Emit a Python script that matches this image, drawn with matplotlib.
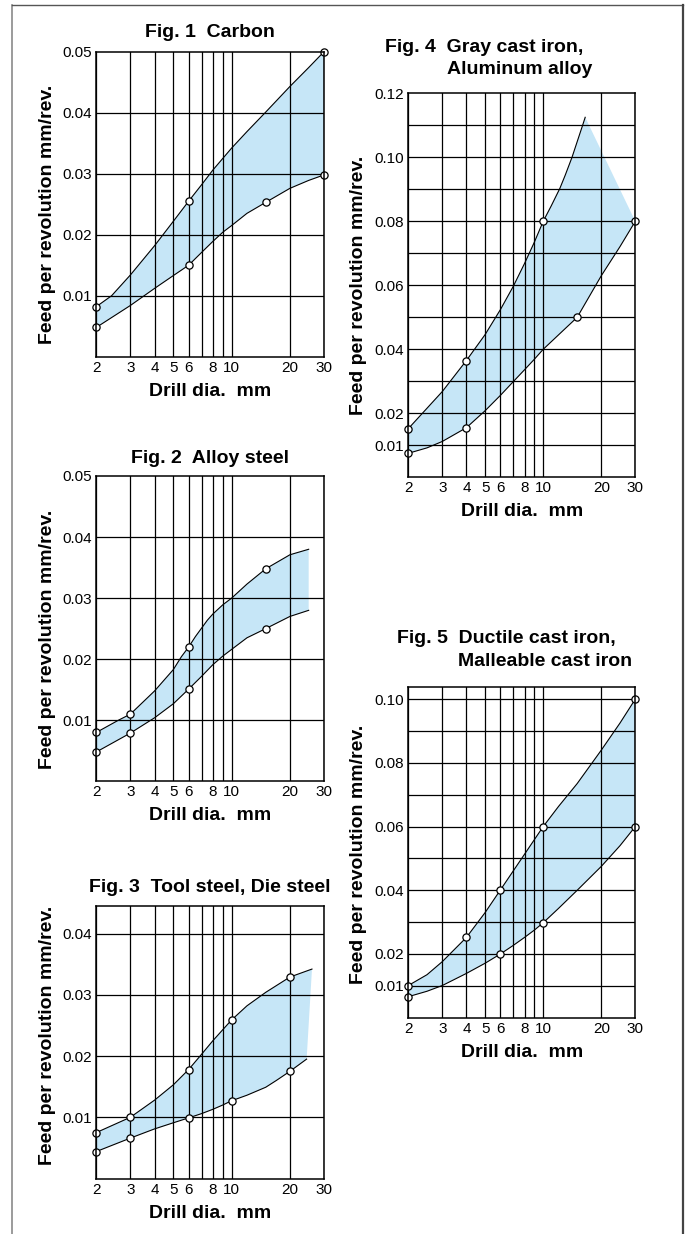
import numpy as np
import matplotlib
matplotlib.use("Agg")
import matplotlib.pyplot as plt
from matplotlib.lines import Line2D
from matplotlib.ticker import FixedLocator, FixedFormatter, NullFormatter

plt.rcParams['font.family'] = ['Liberation Sans', 'DejaVu Sans']

W, H = 685, 1234

# ---- data (drill dia. mm -> feed mm/rev) ----
# Fig. 1 Carbon
fig1_upper_x = [2, 2.4, 3, 4, 5, 6, 7, 8, 9, 10, 12, 15, 20, 25, 30]
fig1_upper_y = [0.0082, 0.0100, 0.0134, 0.0182, 0.0222, 0.0255, 0.0282, 0.0306, 0.0325, 0.0342,
                0.0369, 0.0401, 0.0443, 0.0474, 0.0500]
fig1_lower_x = [2, 3, 4, 5, 6, 7, 8, 9, 10, 12, 15, 20, 25, 30]
fig1_lower_y = [0.0048, 0.0084, 0.0112, 0.0133, 0.0150, 0.0171, 0.0189, 0.0204, 0.0215, 0.0235,
                0.0253, 0.0276, 0.0289, 0.0298]
fig1_marks_x = [2, 6, 30, 2, 6, 15, 30]
fig1_marks_y = [0.0082, 0.0255, 0.0500, 0.0048, 0.0150, 0.0253, 0.0298]

# Fig. 2 Alloy steel
fig2_upper_x = [2, 2.6, 3, 4, 5, 5.5, 6, 6.5, 7, 7.5, 8, 9, 10, 12, 15, 20, 25]
fig2_upper_y = [0.0080, 0.0100, 0.0110, 0.0148, 0.0183, 0.0204, 0.0220, 0.0237, 0.0251, 0.0264,
                0.0274, 0.0289, 0.0300, 0.0323, 0.0348, 0.0371, 0.0380]
fig2_lower_x = [2, 3, 4, 5, 6, 7, 8, 9, 10, 12, 15, 20, 25]
fig2_lower_y = [0.0048, 0.0079, 0.0104, 0.0127, 0.0151, 0.0172, 0.0191, 0.0205, 0.0216, 0.0235,
                0.0250, 0.0270, 0.0280]
fig2_marks_x = [2, 3, 6, 15, 2, 3, 6, 15]
fig2_marks_y = [0.0080, 0.0110, 0.0220, 0.0348, 0.0048, 0.0079, 0.0151, 0.0250]

# Fig. 3 Tool steel, Die steel
fig3_upper_x = [2, 3, 4, 5, 6, 7, 8, 9, 10, 12, 15, 20, 26]
fig3_upper_y = [0.0075, 0.0100, 0.0128, 0.0153, 0.0178, 0.0203, 0.0225, 0.0243, 0.0259, 0.0282,
                0.0304, 0.0329, 0.0342]
fig3_lower_x = [2, 3, 4, 5, 6, 7, 8, 9, 10, 12, 15, 17, 20, 24.4]
fig3_lower_y = [0.0044, 0.0066, 0.0081, 0.0091, 0.0099, 0.0106, 0.0113, 0.0120, 0.0127, 0.0136,
                0.0149, 0.0160, 0.0175, 0.0195]
fig3_marks_x = [2, 3, 6, 10, 20, 2, 3, 6, 10, 20]
fig3_marks_y = [0.0075, 0.0100, 0.0178, 0.0259, 0.0329, 0.0044, 0.0066, 0.0099, 0.0127, 0.0175]

# Fig. 4 Gray cast iron, Aluminum alloy
fig4_upper_x = [2, 3, 4, 5, 6, 7, 8, 9, 10, 11, 12.2, 13, 14.1, 15, 16, 16.5]
fig4_upper_y = [0.0152, 0.0268, 0.0365, 0.0446, 0.0524, 0.0597, 0.0668, 0.0735, 0.0800, 0.0848,
                0.0903, 0.0944, 0.1000, 0.1049, 0.1100, 0.1125]
fig4_lower_x = [2, 2.5, 3, 4, 5, 6, 7, 8, 9, 10, 12, 15, 20, 25, 30]
fig4_lower_y = [0.0075, 0.0092, 0.0112, 0.0155, 0.0208, 0.0256, 0.0299, 0.0336, 0.0369, 0.0400,
                0.0445, 0.0500, 0.0630, 0.0721, 0.0800]
fig4_marks_x = [2, 4, 10, 2, 4, 15, 30]
fig4_marks_y = [0.0152, 0.0365, 0.0800, 0.0075, 0.0155, 0.0500, 0.0800]

# Fig. 5 Ductile cast iron, Malleable cast iron
fig5_upper_x = [2, 2.5, 3, 4, 5, 6, 7, 8, 9, 10, 12, 15, 20, 25, 30]
fig5_upper_y = [0.0101, 0.0135, 0.0176, 0.0252, 0.0330, 0.0401, 0.0461, 0.0513, 0.0559, 0.0600,
                0.0663, 0.0735, 0.0840, 0.0925, 0.1000]
fig5_lower_x = [2, 2.5, 3, 4, 5, 6, 7, 8, 9, 10, 12, 15, 20, 25, 30]
fig5_lower_y = [0.0066, 0.0083, 0.0101, 0.0139, 0.0171, 0.0200, 0.0227, 0.0252, 0.0275, 0.0298,
                0.0343, 0.0400, 0.0475, 0.0540, 0.0600]
fig5_marks_x = [2, 4, 6, 10, 30, 2, 6, 10, 30]
fig5_marks_y = [0.0101, 0.0252, 0.0401, 0.0600, 0.1000, 0.0066, 0.0200, 0.0298, 0.0600]

x_tick_vals = [2, 3, 4, 5, 6, 8, 10, 20, 30]
x_tick_labels = ['2', '3', '4', '5', '6', '8', '10', '20', '30']
x_grid_vals = [2, 3, 4, 5, 6, 7, 8, 9, 10, 20, 30]

FILL = '#c6e6f7'
xlabel_text = 'Drill dia.  mm'
ylabel_text = 'Feed per revolution mm/rev.'


def px_axes(fig, l, t, r, b):
    return fig.add_axes([l / W, 1 - b / H, (r - l) / W, (b - t) / H])


def draw_panel(ax, ux, uy, lx, ly, mx, my, ymax, yticks, ygrid):
    ax.set_xscale('log')
    ax.set_xlim(2, 30)
    ax.set_ylim(0, ymax)

    poly_x = list(ux) + list(lx)[::-1]
    poly_y = list(uy) + list(ly)[::-1]
    ax.fill(poly_x, poly_y, color=FILL, lw=0, zorder=1)

    for gx in x_grid_vals:
        ax.axvline(gx, color='black', lw=0.9, zorder=2)
    for gy in ygrid:
        ax.axhline(gy, color='black', lw=0.9, zorder=2)

    ax.plot(ux, uy, color='black', lw=0.8, zorder=3, solid_joinstyle='round')
    ax.plot(lx, ly, color='black', lw=0.8, zorder=3, solid_joinstyle='round')
    ax.plot(mx, my, 'o', ms=5.2, mfc='white', mec='black', mew=0.9,
            zorder=4, clip_on=False)

    ax.xaxis.set_major_locator(FixedLocator(x_tick_vals))
    ax.xaxis.set_major_formatter(FixedFormatter(x_tick_labels))
    ax.xaxis.set_minor_locator(FixedLocator([]))
    ax.xaxis.set_minor_formatter(NullFormatter())
    ax.set_yticks(yticks)
    ax.set_yticklabels([f'{v:.2f}' for v in yticks])
    ax.tick_params(axis='both', length=0, labelsize=11, pad=3)
    for s in ax.spines.values():
        s.set_linewidth(1.1)
        s.set_zorder(5)


fig = plt.figure(figsize=(W / 100, H / 100), dpi=100)

panels = [
    # (l, t, r, b), data..., ymax, yticks, ygrid
    ((96.3, 51.7, 324, 356.7), fig1_upper_x, fig1_upper_y, fig1_lower_x, fig1_lower_y,
     fig1_marks_x, fig1_marks_y, 0.05, [0.01, 0.02, 0.03, 0.04, 0.05], [0.01, 0.02, 0.03, 0.04]),
    ((96.3, 476, 324, 781.3), fig2_upper_x, fig2_upper_y, fig2_lower_x, fig2_lower_y,
     fig2_marks_x, fig2_marks_y, 0.05, [0.01, 0.02, 0.03, 0.04, 0.05], [0.01, 0.02, 0.03, 0.04]),
    ((96.3, 906, 324, 1178.5), fig3_upper_x, fig3_upper_y, fig3_lower_x, fig3_lower_y,
     fig3_marks_x, fig3_marks_y, 0.0445, [0.01, 0.02, 0.03, 0.04], [0.01, 0.02, 0.03, 0.04]),
    ((408.3, 93.3, 635.3, 477.3), fig4_upper_x, fig4_upper_y, fig4_lower_x, fig4_lower_y,
     fig4_marks_x, fig4_marks_y, 0.12, [0.01, 0.02, 0.04, 0.06, 0.08, 0.10, 0.12],
     [i / 100 for i in range(1, 12)]),
    ((408.3, 686.7, 635.3, 1017.7), fig5_upper_x, fig5_upper_y, fig5_lower_x, fig5_lower_y,
     fig5_marks_x, fig5_marks_y, 0.1039, [0.01, 0.02, 0.04, 0.06, 0.08, 0.10],
     [i / 100 for i in range(1, 11)]),
]

ylabel_pos = [(48, 214), (48, 639), (48, 1035), (358, 285), (358, 854)]

for (box, ux, uy, lx, ly, mx, my, ymax, yt, yg), (yx, yy) in zip(panels, ylabel_pos):
    ax = px_axes(fig, *box)
    draw_panel(ax, ux, uy, lx, ly, mx, my, ymax, yt, yg)
    l, t, r, b = box
    fig.text((l + r) / 2 / W, 1 - (b + 39) / H, xlabel_text, ha='center', va='baseline',
             fontsize=14, fontweight='bold')
    fig.text(yx / W, 1 - yy / H, ylabel_text, rotation=90, ha='center', va='center',
             fontsize=14, fontweight='bold')

# titles
tkw = dict(fontsize=14, fontweight='bold', va='baseline')
fig.text(210 / W, 1 - 37 / H, 'Fig. 1  Carbon', ha='center', **tkw)
fig.text(210 / W, 1 - 463 / H, 'Fig. 2  Alloy steel', ha='center', **tkw)
fig.text(210 / W, 1 - 892 / H, 'Fig. 3  Tool steel, Die steel', ha='center', **tkw)
fig.text(385 / W, 1 - 52 / H, 'Fig. 4  Gray cast iron,', ha='left', **tkw)
fig.text(447 / W, 1 - 74 / H, 'Aluminum alloy', ha='left', **tkw)
fig.text(397 / W, 1 - 643 / H, 'Fig. 5  Ductile cast iron,', ha='left', **tkw)
fig.text(458 / W, 1 - 666 / H, 'Malleable cast iron', ha='left', **tkw)

# page frame
fig.add_artist(Line2D([12 / W, 12 / W], [0, 1 - 5 / H], transform=fig.transFigure,
                      color='#8a8a8a', lw=1.2))
fig.add_artist(Line2D([12 / W, 683 / W], [1 - 5 / H, 1 - 5 / H], transform=fig.transFigure,
                      color='#555555', lw=1.0))
fig.add_artist(Line2D([683 / W, 683 / W], [0, 1 - 5 / H], transform=fig.transFigure,
                      color='#444444', lw=1.6))

fig.savefig('out.png', dpi=100)
